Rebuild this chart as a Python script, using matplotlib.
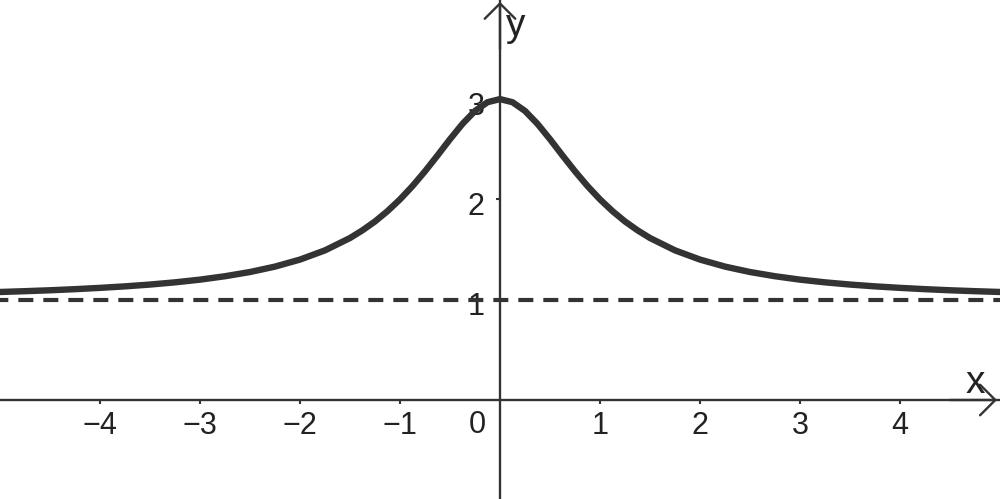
import numpy as np
import matplotlib.pyplot as plt
from matplotlib.transforms import ScaledTranslation

plt.rcParams['font.family'] = ['Liberation Sans', 'DejaVu Sans']

INK = '#333333'

# curve (x, y)
x_pts = [-5.1, -5.0, -4.75, -4.5, -4.25, -4.0, -3.75, -3.5, -3.25, -3.0, -2.75, -2.5, -2.25,
         -2.0, -1.75, -1.5, -1.375, -1.25, -1.125, -1.0, -0.875, -0.75, -0.625, -0.5, -0.375,
         -0.25, -0.125, 0.0, 0.125, 0.25, 0.375, 0.5, 0.625, 0.75, 0.875, 1.0, 1.125, 1.25,
         1.375, 1.5, 1.75, 2.0, 2.25, 2.5, 2.75, 3.0, 3.25, 3.5, 3.75, 4.0, 4.25, 4.5, 4.75,
         5.0, 5.1]
y_pts = [1.074, 1.077, 1.085, 1.094, 1.105, 1.118, 1.133, 1.151, 1.173, 1.200, 1.234, 1.276, 1.330,
         1.400, 1.492, 1.615, 1.692, 1.780, 1.883, 2.000, 2.133, 2.280, 2.438, 2.600, 2.753,
         2.882, 2.969, 3.000, 2.969, 2.882, 2.753, 2.600, 2.438, 2.280, 2.133, 2.000, 1.883, 1.780,
         1.692, 1.615, 1.492, 1.400, 1.330, 1.276, 1.234, 1.200, 1.173, 1.151, 1.133, 1.118, 1.105,
         1.094, 1.085, 1.077, 1.074]
asymptote = 1.0
x_ticks = [-4, -3, -2, -1, 1, 2, 3, 4]
y_ticks = [1, 2, 3]

fig = plt.figure(figsize=(10, 4.99), dpi=100)
ax = fig.add_axes([0, 0, 1, 1])
ax.set_xlim(-5.0, 5.0)
ax.set_ylim(-0.987, 3.988)

# axes through the origin
for s in ['top', 'right']:
    ax.spines[s].set_visible(False)
for s in ['left', 'bottom']:
    ax.spines[s].set_position('zero')
    ax.spines[s].set_color(INK)
    ax.spines[s].set_linewidth(1.7)
    ax.spines[s].set_zorder(1)
ax.set_xticks(x_ticks)
ax.set_yticks(y_ticks)
ax.tick_params(axis='both', direction='out', length=3, width=1.5, colors=INK,
               labelsize=22, labelcolor='#222222')
ax.tick_params(axis='x', pad=5)
ax.tick_params(axis='y', pad=8)
# y labels sit a little below their ticks
shift = ScaledTranslation(0, -4 / 100, fig.dpi_scale_trans)
for lab in ax.get_yticklabels():
    lab.set_transform(lab.get_transform() + shift)

# arrowheads
arr = dict(arrowstyle='->,head_length=0.55,head_width=0.55', lw=1.7, color=INK,
           mutation_scale=20, shrinkA=0, shrinkB=0)
ax.annotate('', xy=(4.97, 0), xytext=(4.5, 0), arrowprops=arr)
ax.annotate('', xy=(0, 3.97), xytext=(0, 3.5), arrowprops=arr)

ax.text(4.75, 0.07, 'x', fontsize=28, color='#222222', ha='center', va='baseline')
ax.text(0.16, 3.63, 'y', fontsize=28, color='#222222', ha='center', va='baseline')
ax.text(-0.23, -0.25, '0', fontsize=22, color='#222222', ha='center', va='center')

# horizontal asymptote
ax.axhline(asymptote, color=INK, lw=3, linestyle=(1.6, (3.6, 2.4)), zorder=2)

# the function
ax.plot(x_pts, y_pts, color=INK, lw=4.6, solid_capstyle='round', solid_joinstyle='round',
        zorder=3)

fig.savefig('out.png', dpi=100)
